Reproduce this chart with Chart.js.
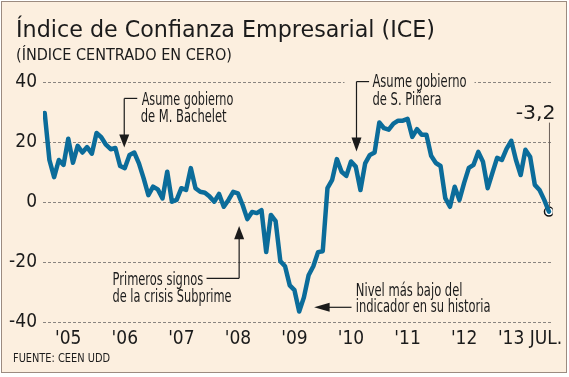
<!DOCTYPE html>
<html><head><meta charset="utf-8">
<script src="https://cdn.jsdelivr.net/npm/chart.js@4.4.0/dist/chart.umd.min.js"></script>
<style>html,body{margin:0;padding:0;background:#fff;}canvas{display:block}</style>
</head><body>
<canvas id="c" width="569" height="377"></canvas>
<script>
// ---- data (monthly, Aug 2004 .. Jul 2013) ----
const startYear = 2004, startMonth = 8;
const iceValues = [
 29.7,14.0,8.3,14.0,12.4,21.1,13.1,18.7,16.5,18.3,16.1,23.0,21.6,19.1,17.6,18.0,
 12.0,11.3,15.7,16.5,12.9,7.9,2.3,5.1,4.2,1.2,10.1,0.1,0.7,4.6,4.0,11.3,
 4.6,3.4,3.1,1.8,0.1,2.7,-1.6,0.7,3.4,2.9,-1.0,-5.7,-3.3,-3.7,-2.7,-16.7,
 -4.3,-6.4,-19.7,-21.4,-27.8,-29.4,-36.5,-31.8,-24.4,-21.4,-16.7,-16.4,4.6,7.4,
 14.3,10.1,8.7,13.5,11.8,4.0,12.9,15.7,16.5,26.5,24.6,24.1,26.1,27.1,27.1,27.7,
 21.7,24.3,22.4,22.4,15.4,13.0,12.0,1.3,-1.6,5.1,0.7,6.4,11.4,12.4,16.7,13.4,
 4.6,9.7,14.7,14.0,17.7,20.4,14.0,9.0,17.4,15.1,5.7,4.0,0.7,-3.2
];
const months = iceValues.map((_, i) => {
  const m = (startMonth - 1 + i) % 12 + 1, y = startYear + Math.floor((startMonth - 1 + i) / 12);
  return y + '-' + String(m).padStart(2, '0');
});
const xTickLabels = ["'05","'06","'07","'08","'09","'10","'11","'12","'13 JUL."];
const xTickMonths = [5,17,29,41,53,65,77,89,103];
const yTicks = [-40,-20,0,20,40];
const lastLabel = "-3,2";

const title = "Índice de Confianza Empresarial (ICE)";
const subtitle = "(ÍNDICE CENTRADO EN CERO)";
const source = "FUENTE: CEEN UDD";

// ---- styles ----
const NARROW = "'Liberation Sans Narrow','DejaVu Sans Condensed','Liberation Sans',sans-serif";
const SANS = "'DejaVu Sans',sans-serif";
const BG = '#fcefdf', FRAME = '#9c8b80', LINE = '#0b6c9a', INK = '#1b1b1b';

function fitText(ctx, text, x, y, font, w, align) {
  ctx.save();
  ctx.font = font;
  ctx.fillStyle = INK;
  ctx.textBaseline = 'alphabetic';
  ctx.textAlign = 'left';
  const m = ctx.measureText(text).width;
  const s = w ? w / m : 1;
  const x0 = align === 'right' ? x - m * s : x;
  ctx.translate(x0, y);
  ctx.scale(s, 1);
  ctx.fillText(text, 0, 0);
  ctx.restore();
}
function arrowHead(ctx, tx, ty, dir, len, wid) {
  ctx.beginPath();
  ctx.moveTo(tx, ty);
  if (dir === 'down') { ctx.lineTo(tx - wid/2, ty - len); ctx.lineTo(tx + wid/2, ty - len); }
  if (dir === 'up')   { ctx.lineTo(tx - wid/2, ty + len); ctx.lineTo(tx + wid/2, ty + len); }
  if (dir === 'left') { ctx.lineTo(tx + len, ty - wid/2); ctx.lineTo(tx + len, ty + wid/2); }
  ctx.closePath(); ctx.fill();
}
function seg(ctx, x1, y1, x2, y2) { ctx.beginPath(); ctx.moveTo(x1, y1); ctx.lineTo(x2, y2); ctx.stroke(); }

const bgPlugin = {
  id: 'bg',
  beforeDraw(chart) {
    const ctx = chart.ctx;
    ctx.save();
    ctx.fillStyle = '#ffffff'; ctx.fillRect(0, 0, chart.width, chart.height);
    ctx.fillStyle = BG; ctx.fillRect(1, 1, 565, 371);
    ctx.strokeStyle = FRAME; ctx.lineWidth = 1; ctx.strokeRect(1.5, 1.5, 565, 371);
    ctx.restore();
  }
};

const notesPlugin = {
  id: 'notes',
  afterDraw(chart) {
    const ctx = chart.ctx, xs = chart.scales.x, ys = chart.scales.y;
    const F = '18px ' + NARROW;
    ctx.save();
    ctx.fillStyle = INK; ctx.strokeStyle = INK; ctx.lineWidth = 1.2;

    // titles
    fitText(ctx, title, 16, 37, '23px ' + SANS, 419);
    fitText(ctx, subtitle, 16, 60, '15px ' + SANS, 216);
    fitText(ctx, source, 13, 361.5, '12.5px ' + SANS, 97);

    // Bachelet
    let tx = xs.getPixelForValue(16.88), ty = ys.getPixelForValue(18.2);
    seg(ctx, tx, ty - 10, tx, ty - 49); seg(ctx, tx, ty - 49, tx + 13, ty - 49);
    arrowHead(ctx, tx, ty, 'down', 13, 10);
    fitText(ctx, 'Asume gobierno', tx + 17.4, ty - 42.3, F, 91.7);
    fitText(ctx, 'de M. Bachelet', tx + 16.4, ty - 25.6, F, 86);

    // Piñera
    tx = xs.getPixelForValue(66.16); ty = ys.getPixelForValue(16.8);
    ctx.fillStyle = BG; ctx.fillRect(tx - 12, ty - 75, 130, 9); ctx.fillStyle = INK;
    seg(ctx, tx, ty - 10, tx, ty - 70); seg(ctx, tx, ty - 70, tx + 12.6, ty - 70);
    arrowHead(ctx, tx, ty, 'down', 14, 10);
    fitText(ctx, 'Asume gobierno', tx + 16, ty - 65, F, 94);
    fitText(ctx, 'de S. Piñera', tx + 16, ty - 46.7, F, 69);

    // Subprime
    tx = xs.getPixelForValue(41.26); ty = ys.getPixelForValue(-8.0);
    seg(ctx, tx, ty + 10, tx, ty + 52.3); seg(ctx, tx, ty + 52.3, tx - 32.6, ty + 52.3);
    arrowHead(ctx, tx, ty, 'up', 13.3, 10);
    fitText(ctx, 'Primeros signos', tx - 36, ty + 59, F, 90.6, 'right');
    fitText(ctx, 'de la crisis Subprime', tx - 126.6, ty + 75.7, F, 119);

    // Minimum
    tx = xs.getPixelForValue(57.17); ty = ys.getPixelForValue(-35.1);
    seg(ctx, tx + 10, ty, tx + 37.4, ty);
    arrowHead(ctx, tx, ty, 'left', 15.5, 9);
    fitText(ctx, 'Nivel más bajo del', tx + 41.7, ty - 11.3, F, 106.7);
    fitText(ctx, 'indicador en su historia', tx + 41.7, ty + 4.4, F, 134.7);

    // last value label
    const li = iceValues.length - 1;
    tx = xs.getPixelForValue(li); ty = ys.getPixelForValue(iceValues[li]);
    ctx.strokeStyle = '#6a5f58'; ctx.lineWidth = 1;
    seg(ctx, tx + 0.5, ty - 5, tx + 0.5, ty - 89);
    fitText(ctx, lastLabel, tx + 6.7, ty - 92.4, '19px ' + SANS, 40, 'right');
    ctx.restore();
  }
};

new Chart(document.getElementById('c'), {
  type: 'line',
  data: {
    labels: months,
    datasets: [{
      data: iceValues.map((v, i) => ({x: i, y: v})),
      borderColor: LINE, borderWidth: 4.5, pointRadius: 0, tension: 0,
      borderJoinStyle: 'round', borderCapStyle: 'round', fill: false
    }, {
      data: [{x: iceValues.length - 1, y: iceValues[iceValues.length - 1]}],
      showLine: false, pointRadius: 4.5, pointBackgroundColor: '#ffffff',
      pointBorderColor: '#111111', pointBorderWidth: 1.5
    }]
  },
  options: {
    responsive: false, animation: false, devicePixelRatio: 1,
    layout: {padding: {top: 82, right: 16, bottom: 25, left: 0}},
    plugins: {legend: {display: false}, tooltip: {enabled: false}, title: {display: false}},
    scales: {
      x: {
        type: 'linear', min: -0.36, max: 107.8,
        grid: {display: false, drawTicks: false}, border: {display: false},
        afterBuildTicks: s => { s.ticks = xTickMonths.map(v => ({value: v})); },
        afterFit: s => { s.height = 30; },
        ticks: {autoSkip: false, maxRotation: 0, padding: 6, color: INK,
          font: {family: NARROW, size: 19},
          callback: (v, i) => xTickLabels[i]}
      },
      y: {
        min: -40, max: 40,
        afterBuildTicks: s => { s.ticks = yTicks.map(v => ({value: v})); },
        afterFit: s => { s.width = 43; },
        grid: {color: '#8a8580', lineWidth: 1, drawTicks: false},
        border: {display: false, dash: [3, 2]},
        ticks: {padding: 6, color: INK, font: {family: NARROW, size: 19}}
      }
    }
  },
  plugins: [bgPlugin, notesPlugin]
});
</script>
</body></html>
